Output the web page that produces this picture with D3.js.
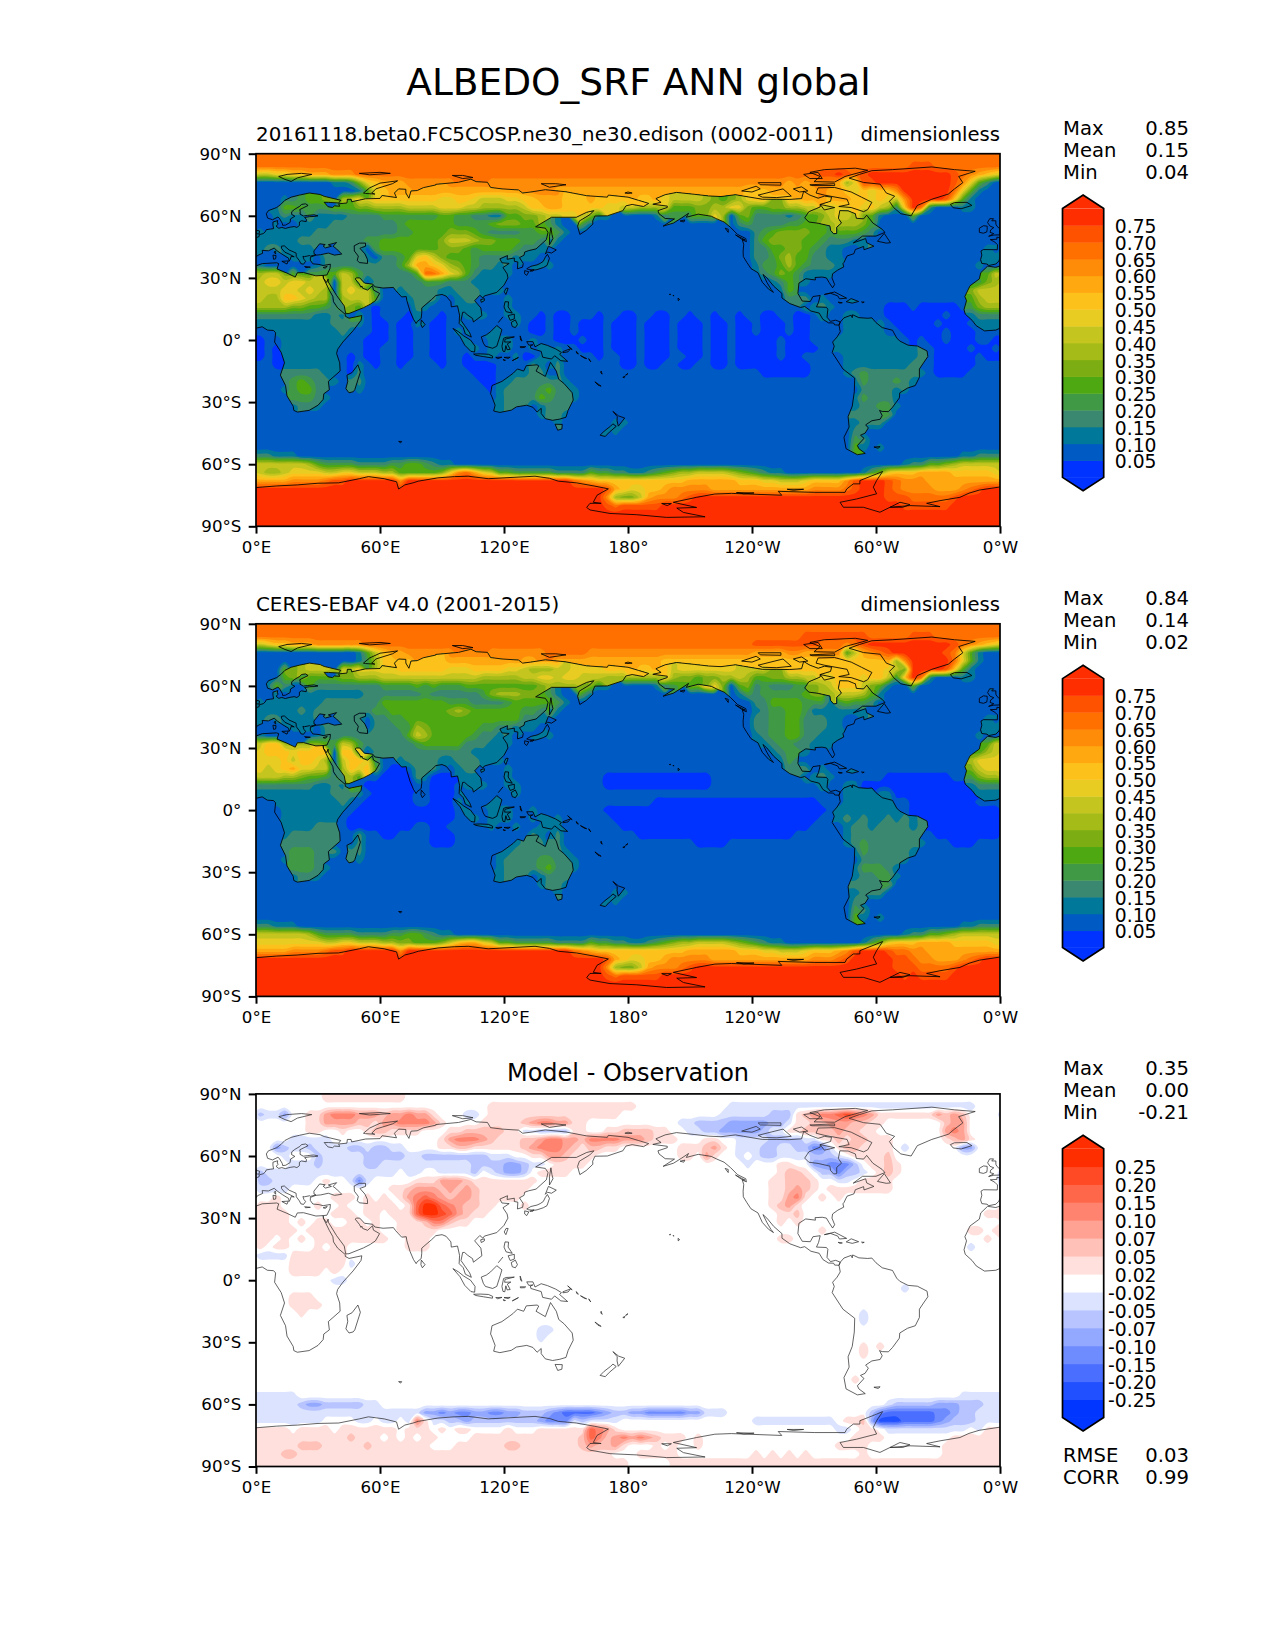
<!DOCTYPE html>
<html>
<head>
<meta charset="utf-8">
<script src="https://cdn.jsdelivr.net/npm/d3@7"></script>
<style>
  body { margin: 0; background: #fff; }
  text { font-family: "DejaVu Sans", sans-serif; fill: #000; }
</style>
</head>
<body>
<div id="chart"></div>
<script>
// tick positions and labels
var lonTicks = [0, 60, 120, 180, 240, 300, 360];
var lonLabels = ["0°E", "60°E", "120°E", "180°", "120°W", "60°W", "0°W"];
var latTicks = [90, 60, 30, 0, -30, -60, -90];
var latLabels = ["90°N", "60°N", "30°N", "0°", "30°S", "60°S", "90°S"];

// colour bands, low to high
var albedoLevels = ["0.05","0.10","0.15","0.20","0.25","0.30","0.35","0.40","0.45","0.50","0.55","0.60","0.65","0.70","0.75"];
var albedoColors = ["#0033ff","#005ac4","#00789a","#3a8870","#409a45","#4ea812","#7cae14","#a4bb18","#c5c51f","#e8cc22","#fdc11c","#ffa80f","#ff8c08","#ff7000","#ff5200","#ff2e00"];
var diffLevels = ["-0.25","-0.20","-0.15","-0.10","-0.07","-0.05","-0.02","0.02","0.05","0.07","0.10","0.15","0.20","0.25"];
var diffColors = ["#0036ff","#2050ff","#4a6eff","#6f8cff","#93a8ff","#b7c4ff","#dce3ff","#ffffff","#ffe0dc","#ffc1b8","#ffa293","#ff836f","#ff674a","#ff4a25","#ff2e00"];

// side numbers
var modelStats = ["0.85", "0.15", "0.04"];
var obsStats = ["0.84", "0.14", "0.02"];
var diffStats = ["0.35", "0.00", "-0.21"];
var fitStats = ["0.03", "0.99"];

// band per 4x4 degree cell, rows from 88N to 88S, 10 cells (40 deg) per group,
// a one letter group is that letter 10 times
var modelRows = [
"d d d d d d d d d",
"d d d d d d d ddddddddde eedddddddd",
"8899aabbbc ccdddddddd d d d d ddddddddee fedeffffff ffffedcba9",
"1111111112 2369abbbcc c c c c ccccbcbccc b79eefffff ffffec9531",
"1 11259abbbb b bbccccbbbb b bbbbbbbbba aabbbbbbcb ba9a9aacff ffffd95211",
"1112345566 7899aaaaaa aa99aa9888 99aabbbaaa baaaaaaaa9 8888765679 aaaaaabbba bbaa9a98cf fffea52111",
"1125554445 5566777788 8899988777 778aabbaaa aa99887777 5556677996 5566778888 99a9a873af d311122111",
"1123221222 2333344444 4455443322 5566788998 6421111123 4445597156 3333234568 9876521115 1",
"1121122223 3333333455 5555444456 6655542114 2111111111 1111111134 3333445577 8776411111 1",
"2222222333 3333333445 5556665433 3344554211 1 1 3456666554 5554311111 1",
"2222233333 3334455555 5568887665 5544322111 1 1 3566665543 3322111111 1",
"2332222111 3331455555 5566654555 5433211111 1 1 3355665432 2111111111 1111111122",
"1111222133 3332133459 a865554333 3222111111 1 1 3346755332 2111111111 1111111122",
"2111111233 333333347b ba97654332 2111221111 1 1 2445754333 2111111111 1111111211",
"7886554445 8743333335 ddb9853222 2111111111 1 1 1346542222 1 1111111158",
"8998998871 8871333333 4443332222 1 1 1 1123542111 1 1111111467",
"8889989871 8988411233 3322333222 1 1 1 1112541111 1 1111116888",
"877aa98773 7888511123 3311233111 2111111111 1 1 1111333121 1 1111115788",
"7777665543 3651011113 2111222111 2111111111 1 1 1111111232 1111110001 0000014677",
"3333333223 2121011102 1101122211 2211010011 1011001100 1101101101 1001100121 1221110000 0001002333",
"2222222223 3321001002 1001111111 1210010010 0010001000 1000100100 1000100111 1222221000 0010001222",
"1122222222 3211001001 1001221122 1110010010 0010001000 1000100100 1000100111 1222221100 0001000111",
"0112222222 2110001001 1001121122 2112110001 0010001000 1000100100 0001000111 2222222210 1001000110",
"0102222222 1110011001 1001112122 2111222110 0010001000 1000100100 0001000011 2 3100001001",
"0102222222 1010011001 1001101221 1200222111 1011001000 1100100100 0001001111 1222222222 3100000100",
"1102222222 1021011011 1101100001 1113213111 1111001001 1001100100 0000000111 1222222223 3100000111",
"1113333322 1131111111 1111110001 1223313111 1 1 1000000111 1234333333 2100001111",
"1113454332 1331111111 1111111001 2333333211 1 1 1 1124333432 1",
"1112455331 1321111111 1111111112 3333453321 1 1 1 1113333221 1",
"1111444321 1 1111111112 3333543321 1 1 1 1124333211 1",
"1111233211 1 1111111112 3311233311 1 1 1 1123344211 1",
"1 1 1 1111233211 1 1 1 1133334111 1",
"1 1 1 1111112111 1112211111 1 1 1123331111 1",
"1 1 1 1 1122111111 1 1 1133111111 1",
"1 1 1 1 1 1 1 1143111111 1",
"1 1 1 1 1 1 1 1152121111 1",
"3322211111 1 1 1 1 1 1 1 1111122333",
"8888887544 4433334455 4322111111 1 1 1 1 1111111123 3556788888",
"8778999988 9988877555 5569cdb985 5444443333 5443322345 6778888765 4322111111 1112469aaa bbbbaaaaa9",
"bbbbccccde effffffcff f ffffffffdc baaaaaaaaa aabbbbbbaa a998889aaa acefffedcc cbbbbbbbbb",
"f f f f ffeba99aab cccccbbbbb bbbbbbbccc cdefffedcc ccbbbcdeff",
"f f f f ffc7668bcc cdefffffff f ffffffeeed ddddefffff",
"f f f f ffedeeeeef f f ffffffffee eeeeffffff",
"f f f f f f f f f",
"f f f f f f f f f"
];

var obsRows = [
"d d d d d d d d d",
"d d d d d d ddddddeeee eeeeddddde eedddddddd",
"89aabbbccc cccddddddd d d d d eeeeeeeedd dcdeffffff ffffedcba9",
"1 11258abbcc c cccccddddd c c bbbbccbbcc c58bcdefff fffed95211",
"1 11247aaaaa aaabbbbbbb b bbbbbbbbba a a aaaaaab7cf ffffd95211",
"1115678887 8899999aaa aaa999aaaa 9987778899 99aaaaaaaa 8999999988 89aaaaaaaa aaaaaa986f fffea52111",
"1125655555 6677788888 8888888777 7788998998 8877777777 7665667787 5566778899 aaa9aa84af d311122111",
"1253213333 3333344445 4544455555 5555677776 6421111123 4556a96156 3433344678 aaa8652115 1",
"1121122222 2223333333 4333333467 7766542114 2111111111 1111111124 3444445677 8887521111 1",
"2222222233 3333355555 5554443333 4555554211 1 1 3355554442 4544311111 1",
"2222232333 3333445555 5556765555 5544322111 1 1 2344554222 2222111111 1",
"2332222111 3331334455 5 5533211111 1 1 3344553332 2111111111 1111111122",
"1111222133 3331333447 6555555443 3222111111 1 1 3344553332 2111111111 1111111122",
"2111111233 3333333358 7555554332 2111221111 1 1 2344553322 2111111111 1111111211",
"8aa7176654 8743333334 5555533322 2111111111 1 1 1234433222 1 1111111158",
"9aaa9aaa81 aa91333333 3333332222 1 1 1 1123442111 1 1111111578",
"999a8aa971 8aa9411233 3322333222 1 1 1 1112431111 1 1111117999",
"989ab99883 7a9a510013 3311233111 2111111111 1 1 1111333121 1 1111116899",
"8887765543 3751100003 2000222111 2111111111 1100000000 0000011111 1111111232 1111110000 0000114677",
"3333333223 2110000001 1000122211 2211111111 1100000000 0000011111 1111111121 1220000000 0000002333",
"2222222223 3321000001 1000111111 1211111111 1 1 1 1222222000 0000000222",
"1122222222 3210000001 1000221122 1 1111111100 0 0000000011 1222222110 0000000111",
"1112222222 2100000000 0000121122 2112111111 1100000000 0 0000000001 2222222210 0",
"1112222222 1000000000 0000112122 2111222111 1110000000 0 0000000011 2323223232 3000000000",
"1112222333 1000000001 1001111221 1211222111 1111000000 0 0000000111 1233233332 3000000000",
"1112333333 1131100111 1000111111 1113213111 1111110000 0 0000011111 1233333333 3100000000",
"1113333333 1131111111 1000111111 1233333111 1 1110000111 1 1234333333 2111000111",
"1113444333 1331111111 1 2333333211 1 1 1 1124333332 1",
"1112444331 1321111111 1111111112 3333443321 1 1 1 1113333321 1",
"1111444321 1 1111111112 3333453321 1 1 1 1124443211 1",
"1111233211 1 1111111112 3311233311 1 1 1 1123344211 1",
"1 1 1 1111233211 1 1 1 1133334111 1",
"1 1 1 1111112111 1112211111 1 1 1123331111 1",
"1 1 1 1 1122111111 1 1 1133111111 1",
"1 1 1 1 1 1 1 1143111111 1",
"1 1 1 1 1 1 1 1152121111 1",
"3322211111 1 1 1 1 1 1 1 1111122333",
"8888887544 4433334455 4322111111 1 1 1 1 1111111123 3556788888",
"9999999988 9988877665 5568abb985 5444443333 5443322345 6778888765 4322111111 1112469aaa bbbbaaaaa9",
"bbbbccccde effffffcff f ffffffffdc baaaaaaaaa aabbbbbbaa a998889aaa bcefffeddc cbbbbbbbbb",
"f f f f ffeba99aab cccccbbbbb bbbbbbbccc defffffeed ccbbbcdeff",
"f f f f ffc7668bcc cdefffffff f fffffffeee ddddefffff",
"f f f f ffedeeeeef f f ffffffffef eeeeffffff",
"f f f f f f f f f",
"f f f f f f f f f"
];

// '.' is the white band (index 7)
var diffRows = [
"........88 88888888.. . . . . . . .",
". . ........88 8 888888.... .......666 6 6 6666666...",
"5664..88ab bbaaa9aaba a8...66.88 8 8888...... ......6666 6655589abb cdcba88888 88a9a9....",
"......88aa aa998aabbb ba8....888 889abbaa88 . .665555444 445568899a aa9988.... ...9aa....",
"......88.. 8..8998888 ...8899999 8866555588 ..88999988 ..66554444 4566889999 a9988..... ...aba....",
"....66666. . ..8abbba98 8899abbaa9 bbbbaaa988 8...88..66 6655556688 9899888... ...89a8...",
"..45665666 65565566.. ..88998888 889abbba98 9988...... .8889a8.66 6556655336 8998888.6. .....44...",
"...6...566 6665555566 5555555566 6..88aa988 8......... .88.a8..6. 6556666555 6.88889... .",
"....666566 6665566666 6666665555 44566.8888 . .........6 ...88..443 335.8898.. .",
"5666666666 6666666.66 ..66665.65 445.8888.. . . ...8998.55 3556.898.. .",
"5566666.8. .636.....8 88aaa98888 8888...... . . ..889998.. 66.8888... .",
"6666...... ......889a aa9a9a9888 888....... . . ..889a98.8 8888888... .",
"..8......8 88.8.8.8ab cba9aa9888 88........ . . ..88ab8.8. 8......... .",
"888....8.. 8..8888.8c eecba9988. ..8....... . . ..89a8.... . .",
"8888.....8 88.88.888c eedca988.. . . . ...889.... . ........88",
"8888.8.88. .88.8..888 9bb988.... . . . ...8.8.... . .",
"88888.8888 88888..888 88........ . . . ........8. . ......88.8",
"88.8.8.888 888888..88 8......... . . . ...88..... . ........8.",
"8.88...8.8 8.......88 8......... . . . . . ......6...",
"6666888888 8......... . . . . . . .",
"....888888 86........ . . . . . . .",
"....8888.8 . . . . . . . .",
".........6 6......... . . . . . . .",
". . . . . . . ........6. .",
"....888... . . . . . . . .",
"....8888.. . . . . . . . .",
".....8.... . . . . . . ...6...... .",
". . . . . . . ...6...... .",
". . . ....66.... . . . . .",
". . . ....6..... . . . . .",
". . . . . . . ...8.8.... .",
". . . . . . . ...8...... .",
". . . . . . . . .",
". . . . . . . . .",
". . . . . . . ..8....... .",
". . . . . . . . .",
"66666..... . . . . . . . .....66666",
"6666654455 55566..... . . . . . ......6555 5544455566",
"6 6 4434334433 4455543222 2345544333 3344666... . ....532222 2233455666",
"66666666.. ..66.66.6b 8665545555 5555433365 6666...... . 6 .889411122 2234555666",
"8888.8888. 8888888.88 8.8.88.... 8...888888 cba8...... . . 66.88.6666 666666.688",
"8 89888.8.8. 88....8888 8888888889 cb9ababa98 88.8...... . ..8888.... ....888888",
"8888899988 8889888888 8...888888 9988888889 a99a8...8. 8..8...... . 8888...... ...8888888",
"8889988888 8 8 8 888...8888 8......... 8.8.8.8... ...8...... ...8888888",
"8 8 8 8 88888..... 8 8 8 8"
];

// coastlines, lon,lat pairs. negative lon is west (shown on the right of the map)
var eurasia = [0,49.4,1.5,50,1.6,50.9,3.5,51.4,4.5,52.3,5,53.3,7,53.6,8.5,53.8,8.2,55.5,8.2,57,10.5,57.7,10.3,56.5,10.8,56,9.7,55,11,54,12.5,54.4,14.2,53.9,16.5,54.5,18.5,54.8,19.8,54.4,21,55.3,21,57,22,57.6,24.3,57.2,24.4,58.3,23.5,59.2,26,59.6,28.5,59.7,30,60,28,60.5,25,60.2,22.9,59.9,21.3,60.8,21.4,62,21.2,63,25.2,65,24,65.8,22,65.5,21.2,64.6,18.8,63.2,17.3,62,17.2,60.7,18.8,59.8,16.7,58.5,16.5,56.8,14.3,55.5,12.9,55.4,12.7,56.4,11.3,58.8,10.6,59.4,8,58.1,5.6,58.9,5,61,6,62.5,10,64,12,65.5,14,67.5,17,69,21,70,25.8,71,31,70.3,33,69.4,41,67.5,40,66.2,35,66.5,33,66.5,34.8,64.4,37,64,38,64.8,40.5,64.6,40,65.8,44,66.2,44.2,68,46,68,46.3,66.8,53,68.2,60,68.4,61,69.8,68,68.8,67,71,69,73,72.5,72.8,72.5,71,74,68.5,75,72,78,72.2,81,73.6,87,74.9,87,75.2,98,76.2,104,77.7,106.5,76.5,112,76.2,113.5,73.7,119,73,127,72.5,129,71,133,71.5,140,72.6,150,71.6,160,69.7,170,69,170.5,70,180,69,-175,67.5,-170,66,-172.5,64.5,-178,65.5,179,64.8,177.5,62.5,170,60,164,59.9,162.9,57.5,163,56,159.8,53,156.7,51,155.6,55,156.5,57.5,161.5,60.5,163.5,62.5,160,61.7,155,59.3,143,59.3,135.3,54.7,140,54,141.3,52,140.5,48.5,135.5,44,132,43.2,130,42.5,129.7,41,127.5,39.8,129.3,37,129,35.2,126.5,34.4,126.7,37.7,125,38,125,39.6,121.5,39,121.7,40.8,118,39.2,119,37.3,122.5,37,119.5,35,121.5,32,121.9,30,120,26.5,116.5,23,110.5,21.3,109.8,20.3,108.3,21.6,105.8,19,108.8,15.5,109.3,11.8,105.2,8.7,104.8,10.4,102.5,12,100.9,13.4,100,13.4,99.2,9.5,101,6.9,103.4,3.5,104.2,1.4,101.3,2.9,100.3,6,98.3,8,98.5,12,97.5,16.5,94.5,16,94.3,18.5,92,21.2,90,22,87,21.5,85,19.6,80.2,15.5,80.2,13,79.9,10.4,78,8.9,77.5,8,76.2,10,74.5,14,73,19,72.7,21,70.5,20.8,69,22.4,67.5,24,66.5,25.4,61.5,25.1,57.5,25.7,56.5,27,52.5,27.5,50.2,30,48.5,30,48,29.5,50,27,50.8,25.5,51.2,26.1,51.6,25,54,24.1,56.4,26.3,56.8,24.2,59.8,22.5,57.8,19,55.3,17.3,52,15.6,45,12.8,43.4,12.7,42.7,16.5,39,21.5,35,28,34.9,29.5,34.2,27.8,32.7,29.8,32.5,31.2,34.3,31.4,35.8,34.5,36,36.6,32.5,36,30.5,36.5,27.5,36.8,26.3,38.5,26.3,40,29,41,31.3,41.2,35,42,38,41,41.5,41.5,39,44,37.3,45.3,39,47.1,35,46,36.5,45.3,33.6,44.5,32.5,45.4,33.5,46.1,30.8,46.5,29.6,45,28,43,28.1,41.6,29,41.2,26.3,40.5,26,40.8,23.5,40.3,22.7,40.4,23.2,39,24,38,23,36.6,21.7,36.9,21,38.3,19.5,40.3,19.4,42,16,43.5,13.7,45.5,12.3,45.3,12.4,44.2,14,42.4,16,41.5,18.5,40.2,17,40.4,16.6,39,16,38,15.8,39.5,13,41.2,10.5,42.9,8.8,44.4,6,43.1,3,43.3,3.2,41.9,0.7,40.8,0,39.8];
var caspian = [50,46.8,53,46.8,53,45.3,51,44.6,50.3,44.3,52.7,41.6,53.9,39,54,37,50,37.4,49,38.4,49.5,40.5,47.6,43,47.5,45.5];
var africaEast = [0,35.8,3,36.9,10,37.3,11,36.9,10.2,34.3,15,32.3,19,30.4,20,32.5,23,32.6,29,31,32.5,31.2,32.6,29.9,35.5,24,37.2,21,37.5,18.5,39.5,15.5,43.2,12.4,43.2,11.5,45,10.5,51.2,11.8,50.8,9.5,47,4.5,42,-1,39.5,-4.5,39,-6.5,40.5,-11,40.7,-15,35,-20,35.5,-24,32.8,-26,32.5,-28.7,30,-31.5,25.7,-34,20,-34.8,18.3,-34,18,-32,15,-27,14.3,-22,11.8,-17,13.8,-11,12.2,-6,9,-1,9.5,3.5,8.5,4.6,5.5,4.8,3,6.4,0,5.7];
var africaWest = [-0.01,5.7,-2,4.8,-7.5,4.4,-11.5,6.9,-13.5,9.5,-16.8,12.5,-17.4,14.7,-16.2,19,-17,21,-14.5,26.2,-10,29.5,-9.3,32.5,-6,35.7,-2,35.1,-0.01,35.8];
var iberia = [-0.01,49.4,-1.5,49.7,-1.5,48.7,-4.7,48.5,-2.5,47.3,-1.2,46,-1.3,43.6,-8,43.7,-9.2,43,-8.8,41,-9.4,38.8,-8.8,37,-6.3,36.7,-5.4,36,-2,36.7,-0.5,38.2,-0.01,39.8];
var britainEast = [0,51.4,1.5,51.2,1.7,52.7,0.3,53,0,53.6];
var britainWest = [-0.01,53.6,-1.5,55,-2,56,-2,57.6,-4,57.6,-3.1,58.6,-5,58.6,-6,56.7,-4.8,55,-3,54.3,-4.5,53.2,-4.8,52,-3,51.4,-5.5,50.1,-3,50.7,-0.01,50.8];
var ireland = [-6.2,53.5,-6.2,55,-8,55.2,-10,54,-10,52,-8,51.6,-6.4,52.2];
var northAmerica = [-168,65.6,-164,66.5,-166.5,68.3,-162,70.2,-156.5,71.3,-148,70.4,-141,69.6,-135,69.3,-128,70.2,-124,69.5,-115,68,-108,68,-102,67.9,-96,68.3,-95,71.8,-92,70,-88,68.5,-85,69.5,-81.5,69,-82,67,-87,65.5,-87,64.3,-92.5,62,-94.5,59,-92.5,57,-88,56.4,-82.3,55.1,-82,53,-80.5,51.3,-79,51.5,-79,54.5,-76.7,56.5,-78.2,58.8,-77.5,62.5,-73.5,62.4,-70,61,-69.5,58.8,-66,58.5,-64.5,60.3,-61.5,56.5,-57,53.5,-55.7,52,-60,50.2,-66.5,50.2,-71,46.9,-65,49,-64.5,47,-61,45.3,-65.8,43.6,-66,45.2,-70,43.7,-70.7,41.7,-74,40.6,-75.5,37.5,-76,36.9,-75.6,35.3,-78.5,33.8,-81,32,-81.3,30,-80,26.8,-81,25.2,-82.7,27.8,-84,30,-86,30.4,-89.5,30.2,-89.3,29,-94,29.6,-97.3,27.5,-97.8,22.5,-95.7,18.8,-91.8,18.6,-90.5,21,-87,21.5,-87.8,18.2,-88.8,16,-84,15.8,-83.3,14.9,-83.7,11,-82,9,-79.5,9.6,-77.3,8.7,-77.9,7.2,-80,7.3,-80.5,8.2,-83,8.3,-85.7,10,-87.5,13,-91.5,14,-94.5,16.2,-96.5,15.7,-101.7,17.6,-105.5,20.3,-105.5,22.5,-109.5,26,-112.8,30,-114.7,31.7,-112.7,27.7,-110.8,24.5,-109.6,23,-112,24.6,-115,27.9,-117.1,32.5,-120.5,34.5,-122.5,37.5,-124.2,40.3,-124.3,43,-124,46.2,-124.7,48.4,-122.7,47.5,-123,49,-127,51,-130.5,54.5,-133.5,57,-137,58.5,-139.7,59.8,-146,60.8,-151.8,59.3,-150.7,61.2,-154,59,-158,56.5,-163,55,-157.5,58.5,-162,58.7,-165,61,-165.5,62.5,-161,64,-161,64.7];
var southAmerica = [-77.3,8.7,-75.5,10.7,-72,12,-71.5,10.8,-71.3,12.2,-68.3,10.8,-64,10.5,-62,10.7,-60,8.4,-57,6,-52,4.7,-50,1,-48.5,-0.5,-44.5,-2.5,-40,-2.9,-35.3,-5.3,-34.9,-8,-37,-11,-39,-14,-39,-18,-41,-22,-44.7,-23.2,-48.5,-25.5,-48.7,-28,-52,-32.5,-54,-34.6,-57,-34.5,-58.3,-34,-57,-36.5,-58,-38.3,-62,-39,-65,-41,-63.7,-42.5,-65.3,-45,-67.5,-46,-65.8,-47.5,-69,-51,-68.3,-52.5,-65.2,-54.8,-69,-55.4,-74.5,-52.5,-75.5,-47,-73,-42,-73.5,-37,-71.5,-32,-70.5,-25,-70.3,-18.4,-76,-14,-81.2,-6,-80.2,-3,-81,-1,-78.8,1.5,-77.3,4,-77.9,7.2];
var australia = [113.5,-26,114.2,-22,119,-20,122.5,-17.5,124.5,-16,126.5,-14,129.5,-15,130.8,-12.4,136,-12,136.8,-12.5,135.5,-15,140,-17.6,141.7,-13,142.5,-10.8,145.3,-15,146.5,-19,149,-21,153,-25.5,153.5,-29,151,-34,150,-37.3,147,-38.2,143.5,-38.8,140,-38,138,-35.5,138,-33,136,-34.8,134,-32.5,131,-31.5,126,-32.3,123.5,-33.9,118,-35,115,-34.3,115.7,-31.5,114,-27];
var madagascar = [49.3,-12,50.5,-15.5,47.8,-24,47,-25,45,-25.5,43.5,-23.5,44.4,-20,44,-17,46.5,-15.7];
var sriLanka = [80,9.7,81.8,7.5,80.5,6,79.8,7.5];
var sakhalin = [142.7,54.3,143.2,51,143.7,49,142,46,142,50];
var honshu = [141,41.4,142,39.5,140.8,36,139,35,136,34,135,33.8,132,34,131,34.4,133,35.6,136,36.3,137.5,37,139,38,140,40];
var hokkaido = [140,41.5,141.5,45.3,145.3,43.5,143,42,141,42.5];
var kyushu = [130,33.5,132,33,131,31.2,130,32];
var shikoku = [132.5,33.3,134.5,34,134,33.3];
var taiwan = [121,25,122,25,120.9,22,120.1,23.3];
var hainan = [108.7,19.5,110.5,20,110.5,19,109,18.2];
var luzon = [120.5,18.5,122.2,18.4,122,16,124,13,121,13.7,120,16];
var mindanao = [123.5,8.5,125.5,9.7,126.5,7.5,125.5,6,124,6.5];
var visayas = [122,11.8,125,12.5,125,10.2,123,9.5];
var borneo = [109,1.5,111.5,2.5,113.5,4,116.5,7,119,5,117.8,1,116.5,-3,114.5,-4,111,-3,110,-1.5];
var sumatra = [95.3,5.6,98,4,100.5,2,103.8,0,106,-3,105.8,-5.8,104,-5.5,101,-2.5,98.7,1.7];
var java = [105.3,-6.8,108.5,-6.7,112.5,-6.9,114.5,-7.8,114.4,-8.7,110,-8,106.4,-7.4];
var sulawesi = [119.8,0.8,121,1.3,125,1.5,120.5,0.4,120.3,-1,123.3,-0.9,121.6,-1.9,123,-4.5,121.5,-4.7,120.9,-2.7,120.4,-5.6,119.5,-5.4,119,-3];
var newGuinea = [131,-0.8,134,-0.8,135,-3.3,138,-1.7,141,-2.6,145,-4.3,147.8,-6,146.9,-6.9,150.8,-10.3,147.5,-10,144.5,-7.6,143,-9.2,138.7,-8.3,138,-5.5,133,-4,132.8,-2.8,134,-2.3,132,-2.5];
var tasmania = [144.7,-40.7,148.2,-40.8,148,-43,146,-43.6,145.3,-42];
var nzNorth = [172.7,-34.5,175.5,-36.7,178.4,-37.7,177,-39.5,175.3,-41.6,174.7,-39,174.8,-37];
var nzSouth = [172.7,-40.5,174.3,-41.7,171,-44.5,169,-46.6,166.5,-46,168.5,-44,171.5,-41.7];
var cuba = [-85,22,-80,23.2,-74.2,20.2,-77.7,19.9,-78.5,21.3,-82,22.6];
var hispaniola = [-74.4,18.5,-72,20,-68.4,18.6,-71.5,17.8];
var landRings = [eurasia, caspian, africaEast, africaWest, iberia, britainEast, britainWest, ireland, northAmerica, southAmerica, australia, madagascar, sriLanka, sakhalin, honshu, hokkaido, kyushu, shikoku, taiwan, hainan, luzon, mindanao, visayas, borneo, sumatra, java, sulawesi, newGuinea, tasmania, nzNorth, nzSouth, cuba, hispaniola];

// outline only, the colour field is not cut to these
var greenland = [-73,78.2,-68,80,-62,81.8,-52,82.3,-33,83.6,-22,82.3,-12,81.5,-20,79,-18,76,-22,73,-25,70.5,-33,68,-40,65,-43,60,-48,61,-51.5,64,-53.5,67,-51,69.5,-55,71,-58,75.3,-66,76.1];
var outlineRings = [greenland,
  [-24,65.5,-22,66.4,-16,66.5,-13.6,65,-18.8,63.4,-22.7,63.9],
  [11,79,15,80,22,80.5,27,80,20,78.3,17,76.6,14,77.6],
  [52,71,55,73.5,60,75.8,68.5,76.9,66,75.5,58,73,56,71,57.5,70.5,53,70.8],
  [95,79.5,100,79.5,105,78.5,100,78],
  [138,75.5,145,75.5,150,75,142,73.8],
  [178.5,71,180,71.5,-178,71,180,70.8],
  [50,80.5,60,81,65,80.5,55,79.8],
  [-80,73.7,-72,71.5,-67,69,-62,66.5,-64,63,-66,62,-72,64,-78,64.5,-73,65.5,-74,68,-85,70,-89,71,-88,73.5],
  [-117,70,-105,73,-101,69.5,-108,68.8,-115,69],
  [-125,72,-118,74.3,-116,73,-120,71.5],
  [-90,76.5,-80,76.3,-75,79,-64,82,-70,83,-85,82.3,-92,81,-87,79],
  [-95,80,-88,81,-86,78,-92,78],
  [-92,75,-80,75.5,-80,74.6,-91,74.6],
  [-100,73,-96,74,-93,72,-97,71.5],
  [-117,76,-106,76,-106,74.8,-116,75],
  [-87,65.5,-80,64,-85,62.8],
  [-59.3,47.7,-56,51.5,-53,47,-55,46.8],
  [-78.3,18.3,-76.3,18,-77.5,17.8],
  [-67,18.4,-65.7,18.3,-66.5,18],
  [-128,50.8,-123.3,48.3,-125,48.7],
  [-133,54,-131.5,53.5,-131.5,52],
  [-154.8,57.5,-152.5,58,-153,57],
  [12.5,38,15.6,38.2,15,36.7],
  [8.2,41,9.7,40.8,9.5,39.2,8.5,39],
  [8.7,42.5,9.5,43,9.5,41.5],
  [23.5,35.5,26.3,35.2,24,35],
  [32.5,35,34.5,35.6,33.5,34.7],
  [116,-8.4,119,-8.3,117,-9],
  [120,-8.4,123,-8.3,122,-8.9],
  [119.5,-9.4,120.7,-9.8,120,-9.9],
  [124,-10,127,-8.4,125,-9.5],
  [127.8,2,128.7,-0.5,128,0],
  [127.8,-3.2,130.5,-3.2,130,-3.6,128,-3.7],
  [148.5,-5.6,152.2,-4.2,151,-5.7,148.5,-6.1],
  [150.8,-2.7,153,-4.6,152.5,-4.4],
  [155,-5.5,156,-6.8,155.2,-6.4],
  [157,-7.5,160,-9,159,-8.8],
  [161,-9,162,-10.5,161.5,-10],
  [164,-20.2,167,-22.3,165.5,-21.8],
  [167,-15,167.5,-16.5,166.8,-15.8],
  [177.5,-18,178.5,-17.5,178.2,-18.2],
  [178.8,-17,180,-16.2,179.2,-16.8],
  [-155.8,20.2,-155,19.6,-155.7,19],
  [-158.2,21.6,-157.7,21.4,-158,21.3],
  [-160,22,-159.4,22.2,-159.5,21.9],
  [69,-49,70.5,-49,70,-49.7],
  [-61,-51.7,-58,-51.5,-59,-52.3],
  [306.8,-80.8,311.6,-78.4,316.4,-79.5,313,-80.8],
  [196.3,-79,201,-79,199,-80],
  [232.5,-73.7,241,-73.9,236,-74.3],
  [257,-72.1,265,-72.1,260,-72.6]
];
var openLines = [
  [117.2,8.4,119.5,11.2],
  // antarctica
  [0,-71.3,10,-70.5,20,-70,30,-69.2,40,-69,50,-67,54.4,-66,62,-67,68,-68.5,69,-72,72,-70,76,-69,78.5,-68.2,88,-66.6,96,-66,102.7,-65.8,112.4,-67,120,-66.6,135,-65.8,142,-66.8,146.3,-68.2,155,-69,164,-70.6,170.5,-71.9,165,-75,163.2,-78.4,167,-78.9,161.6,-78.9,160,-80.9,161.6,-82.1,171.3,-83.8,184.2,-84.4,198.7,-85.7,217.3,-85.4,206.8,-83.3,203.6,-81.2,213.2,-80.9,201.9,-78.4,213.2,-76,222,-74.4,230,-74.1,254.4,-75,252.7,-73.1,270.4,-73.6,285,-73.6,285.8,-72,289,-69.5,292.2,-69.5,292.2,-67.9,300.3,-64.7,303.2,-63.5,300.3,-67.9,298.7,-71.1,300.3,-74.3,290.6,-76.8,282.6,-78.4,284.2,-80.8,293.9,-80.8,301.9,-83.2,306.8,-80.8,316.4,-80,331,-80.5,324.5,-78.9,331,-77.6,340.6,-76,345,-74,350,-72.5,360,-71]
];

var W = 1275, H = 1650;
var panelW = 744, panelH = 372.6, panelX = 256;
var nCols = 90, nRows = 45, cellDeg = 4, pad = 2;
var FONT_TITLE = 24, FONT_TICK = 16.67, FONT_BAR = 18.75;

var svg = d3.select("#chart").append("svg").attr("width", W).attr("height", H);

var x = d3.scaleLinear().domain([0, 360]).range([0, panelW]);
var y = d3.scaleLinear().domain([90, -90]).range([0, panelH]);

function norm(lon) { return lon < 0 ? lon + 360 : lon; }
function toPairs(flat) {
  return d3.range(0, flat.length, 2).map(function(i) { return [norm(flat[i]), flat[i + 1]]; });
}
var lineGen = d3.line().x(function(d) { return x(d[0]); }).y(function(d) { return y(d[1]); });

// grid cells that are on land
var landPairs = landRings.map(toPairs);
var isLand = [];
for (var r = 0; r < nRows; r++) {
  for (var c = 0; c < nCols; c++) {
    var pt = [(c + 0.5) * cellDeg, 90 - (r + 0.5) * cellDeg];
    var inside = landPairs.some(function(ring, k) { return k != 1 && d3.polygonContains(ring, pt); });
    if (d3.polygonContains(landPairs[1], pt)) inside = false; // caspian
    isLand.push(inside);
  }
}

function parseRows(rows) {
  var out = [];
  rows.forEach(function(row) {
    var s = row.split(" ").map(function(g) { return g.length == 1 ? g.repeat(10) : g; }).join("");
    s = s.replace(/\./g, "7");
    while (s.length < nCols) s += s[s.length - 1];
    for (var i = 0; i < nCols; i++) out.push(parseInt(s[i], 16));
  });
  return out;
}

// copy a field, cells not kept take the value of the closest kept cell
function spread(values, keep) {
  var out = values.slice();
  var done = keep.slice();
  var queue = [];
  keep.forEach(function(k, i) { if (k) queue.push(i); });
  for (var q = 0; q < queue.length; q++) {
    var i = queue[q], c = i % nCols, r = Math.floor(i / nCols);
    [[1,0],[-1,0],[0,1],[0,-1]].forEach(function(d) {
      var c2 = (c + d[0] + nCols) % nCols, r2 = r + d[1];
      if (r2 < 0 || r2 >= nRows) return;
      var j = r2 * nCols + c2;
      if (!done[j]) { done[j] = true; out[j] = out[i]; queue.push(j); }
    });
  }
  return out;
}

// repeat the edge cells around the grid so the rounded contours run past the map edge
function padded(values) {
  var out = [];
  for (var r = -pad; r < nRows + pad; r++) {
    for (var c = -pad; c < nCols + pad; c++) {
      var rr = Math.max(0, Math.min(nRows - 1, r));
      var cc = (c + nCols) % nCols;
      out.push(values[rr * nCols + cc]);
    }
  }
  return out;
}

var ringLine = d3.line()
  .x(function(d) { return x((d[0] - pad) * cellDeg); })
  .y(function(d) { return y(90 - (d[1] - pad) * cellDeg); })
  .curve(d3.curveCatmullRomClosed.alpha(0.5));

function bandPath(band) {
  var out = "";
  band.coordinates.forEach(function(poly) {
    poly.forEach(function(ring) { out += ringLine(ring.slice(0, -1)); });
  });
  return out;
}

function drawField(g, values, colors) {
  g.append("rect").attr("width", panelW).attr("height", panelH).attr("fill", colors[0]);
  var thresholds = d3.range(1, colors.length).map(function(b) { return b - 0.5; });
  var bands = d3.contours().size([nCols + 2 * pad, nRows + 2 * pad]).smooth(true).thresholds(thresholds)(padded(values));
  g.selectAll("path").data(bands).enter().append("path")
    .attr("d", bandPath)
    .attr("fill-rule", "evenodd")
    .attr("fill", function(d) { return colors[Math.round(d.value + 0.5)]; });
}

var defs = svg.append("defs");
defs.append("clipPath").attr("id", "land").append("path")
  .attr("clip-rule", "evenodd")
  .attr("d", landPairs.map(function(ring) { return lineGen(ring) + "Z"; }).join(""));
defs.append("clipPath").attr("id", "axesBox").append("rect").attr("width", panelW).attr("height", panelH);

function drawPanel(opt) {
  var top = opt.bottom - panelH;
  var g = svg.append("g").attr("transform", "translate(" + panelX + "," + top + ")");
  var values = parseRows(opt.rows);
  var fieldBox = g.append("g").attr("clip-path", "url(#axesBox)");
  if (opt.mask) {
    var notLand = isLand.map(function(v) { return !v; });
    drawField(fieldBox.append("g"), spread(values, notLand), opt.colors);
    drawField(fieldBox.append("g").attr("clip-path", "url(#land)"), spread(values, isLand), opt.colors);
  } else {
    drawField(fieldBox.append("g"), values, opt.colors);
  }

  // coast
  var coast = g.append("g").attr("clip-path", "url(#axesBox)")
    .attr("fill", "none").attr("stroke", opt.coastColor).attr("stroke-width", opt.coastWidth).attr("stroke-linejoin", "round");
  landPairs.concat(outlineRings.map(toPairs)).forEach(function(ring) {
    coast.append("path").attr("d", lineGen(ring) + "Z");
  });
  openLines.forEach(function(l) { coast.append("path").attr("d", lineGen(toPairs(l))); });

  // axes
  var xAxis = d3.axisBottom(x).tickValues(lonTicks).tickFormat(function(d, i) { return lonLabels[i]; }).tickSize(7.3).tickPadding(7.3);
  var yAxis = d3.axisLeft(y).tickValues(latTicks).tickFormat(function(d, i) { return latLabels[i]; }).tickSize(7.3).tickPadding(7.3);
  var ax = g.append("g").attr("transform", "translate(0," + panelH + ")").call(xAxis);
  var ay = g.append("g").call(yAxis);
  [ax, ay].forEach(function(a) {
    a.select(".domain").remove();
    a.selectAll("line").attr("stroke", "#000").attr("stroke-width", 2);
    a.selectAll("text").attr("font-size", FONT_TICK).attr("font-family", "DejaVu Sans").attr("fill", "#000");
  });
  g.append("rect").attr("width", panelW).attr("height", panelH).attr("fill", "none").attr("stroke", "#000").attr("stroke-width", 1.7);

  // titles above
  if (opt.left) g.append("text").attr("x", 0).attr("y", -12.5).attr("font-size", 19.85).text(opt.left);
  if (opt.right) g.append("text").attr("x", panelW).attr("y", -12.5).attr("text-anchor", "end").attr("font-size", 19.6).text(opt.right);
  if (opt.center) g.append("text").attr("x", panelW / 2).attr("y", -12.5).attr("text-anchor", "middle").attr("font-size", FONT_TITLE).text(opt.center);

  // colorbar
  var barX = 1062.5, barW = 41.2, barH = 295.7;
  var barBottom = opt.bottom - 35.5, barTop = barBottom - barH;
  var ext = barH / 1.1 * 0.05;
  var nb = opt.colors.length;
  var by = d3.scaleLinear().domain([0, nb]).range([barBottom - ext, barTop + ext]);
  var bar = svg.append("g");
  opt.colors.forEach(function(col, i) {
    bar.append("rect").attr("x", barX).attr("width", barW).attr("y", by(i + 1)).attr("height", by(i) - by(i + 1) + 0.4).attr("fill", col);
  });
  bar.append("path").attr("fill", opt.colors[0]).attr("d", "M" + barX + "," + by(0) + "L" + (barX + barW / 2) + "," + barBottom + "L" + (barX + barW) + "," + by(0) + "Z");
  bar.append("path").attr("fill", opt.colors[nb - 1]).attr("d", "M" + barX + "," + by(nb) + "L" + (barX + barW / 2) + "," + barTop + "L" + (barX + barW) + "," + by(nb) + "Z");
  bar.append("path").attr("fill", "none").attr("stroke", "#000").attr("stroke-width", 1.7)
    .attr("d", "M" + barX + "," + by(0) + "L" + (barX + barW / 2) + "," + barBottom + "L" + (barX + barW) + "," + by(0) +
      "L" + (barX + barW) + "," + by(nb) + "L" + (barX + barW / 2) + "," + barTop + "L" + barX + "," + by(nb) + "Z");
  opt.levels.forEach(function(lab, i) {
    bar.append("text").attr("x", 1156.5).attr("y", by(i + 1) + 1).attr("dy", "0.36em").attr("text-anchor", "end").attr("font-size", FONT_BAR).text(lab);
  });

  // max mean min
  var statY = opt.bottom - 347.4;
  ["Max", "Mean", "Min"].forEach(function(name, i) {
    svg.append("text").attr("x", 1063).attr("y", statY - 44 + i * 22).attr("font-size", 19.6).text(name);
    svg.append("text").attr("x", 1189).attr("y", statY - 44 + i * 22).attr("text-anchor", "end").attr("font-size", 19.6).text(opt.stats[i]);
  });
}

svg.append("text").attr("x", 638.5).attr("y", 95).attr("text-anchor", "middle").attr("font-size", 37.5).text("ALBEDO_SRF ANN global");

drawPanel({ bottom: 526.3, rows: modelRows, colors: albedoColors, levels: albedoLevels, stats: modelStats, mask: true, coastColor: "#000", coastWidth: 0.85,
  left: "20161118.beta0.FC5COSP.ne30_ne30.edison (0002-0011)", right: "dimensionless" });
drawPanel({ bottom: 996.4, rows: obsRows, colors: albedoColors, levels: albedoLevels, stats: obsStats, mask: true, coastColor: "#000", coastWidth: 0.85,
  left: "CERES-EBAF v4.0 (2001-2015)", right: "dimensionless" });
drawPanel({ bottom: 1466.5, rows: diffRows, colors: diffColors, levels: diffLevels, stats: diffStats, mask: false, coastColor: "#222", coastWidth: 0.7,
  center: "Model - Observation" });

["RMSE", "CORR"].forEach(function(name, i) {
  svg.append("text").attr("x", 1063).attr("y", 1462 + i * 22).attr("font-size", 19.6).text(name);
  svg.append("text").attr("x", 1189).attr("y", 1462 + i * 22).attr("text-anchor", "end").attr("font-size", 19.6).text(fitStats[i]);
});
</script>
</body>
</html>
